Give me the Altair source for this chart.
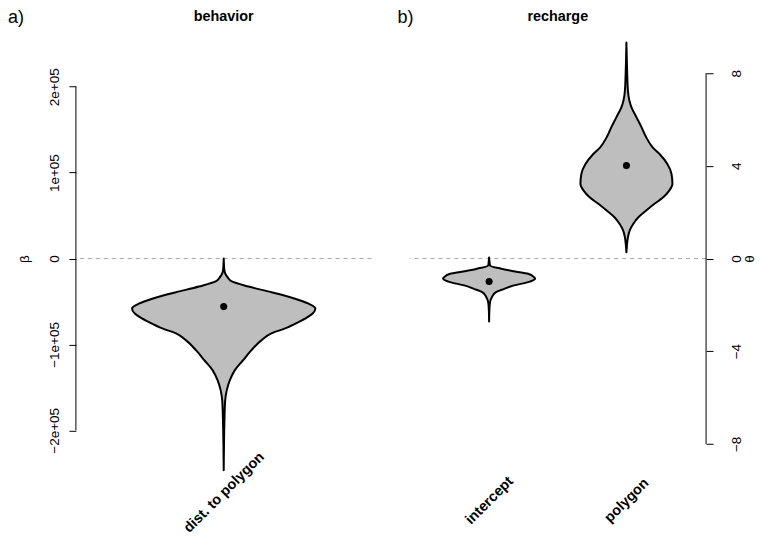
import altair as alt
import pandas as pd

FONT = "Liberation Sans"
W = 0.335  # half-width of the widest part of each violin (category units)

# ---------- panel a) behavior (beta) ----------
beta_cats = ["dist. to polygon"]
beta_vals = [0, -11600, -17400, -22100, -26700, -32600, -39500, -46500, -52300,
             -58100, -64000, -68600, -74400, -81400, -87200, -95300, -107000,
             -118600, -130200, -141900, -153500, -165100, -188400, -217400, -246500]
beta_dens = [0, .005, .016, .044, .088, .27, .53, .77, .92, 1.0, .97, .91, .81,
             .67, .52, .41, .30, .21, .12, .066, .033, .016, .008, .003, 0]
beta_mean = [-56000]
beta_ticks = [-200000, -100000, 0, 100000, 200000]
beta_tick_labels = ["\u22122e+05", "\u22121e+05", "0", "1e+05", "2e+05"]

# ---------- panel b) recharge (theta) ----------
theta_cats = ["intercept", "polygon"]
intercept_vals = [0.04, -0.17, -0.30, -0.44, -0.55, -0.66, -0.81, -0.875, -1.02,
                  -1.16, -1.31, -1.45, -1.67, -1.88, -2.24, -2.72]
intercept_dens = [0, .01, .02, .26, .54, .85, .98, 1.0, .85, .54, .33, .15, .06,
                  .02, .005, 0]
polygon_vals = [9.32, 8.10, 7.24, 6.81, 6.52, 6.09, 5.66, 5.23, 4.80, 4.51, 4.08,
                3.65, 3.22, 2.93, 2.64, 2.36, 2.07, 1.78, 1.50, 1.21, 0.92, 0.56, 0.27]
polygon_dens = [0, .015, .033, .065, .11, .22, .33, .43, .57, .72, .89, .98, 1.0,
                .93, .80, .61, .43, .26, .15, .072, .033, .011, 0]
theta_means = [-0.99, 4.01]
theta_ticks = [-8, -4, 0, 4, 8]
theta_tick_labels = ["\u22128", "\u22124", "0", "4", "8"]

PH = 445
TICK_FS = 13.5


def label_expr(values, labels):
    expr = "''"
    for v, l in zip(values, labels):
        expr = f"datum.value == {v} ? '{l}' : ({expr})"
    return expr


def violin_frame(cats, vals_list, dens_list):
    rows = []
    for i, (c, vs, ds) in enumerate(zip(cats, vals_list, dens_list)):
        pos = i + 1
        for v, d in zip(vs, ds):
            rows.append({"cat": c, "v": v, "lo": pos - W * d, "hi": pos + W * d})
    return pd.DataFrame(rows)


def panel(cats, vals_list, dens_list, means, ticks, tick_labels, ydom, xdom,
          y_orient, ytitle, title, tag, tag_dx, pw, title_x, cat_pad):
    left = y_orient == "left"
    xs = alt.Scale(domain=xdom, nice=False, zero=False)
    ys = alt.Scale(domain=ydom, nice=False, zero=False)
    positions = list(range(1, len(cats) + 1))
    yaxis = alt.Axis(
        orient=y_orient, values=ticks, labelExpr=label_expr(ticks, tick_labels),
        domain=False, grid=False, ticks=True, tickSize=7, tickColor="black",
        tickWidth=1, labelAngle=-90, labelAlign="center", labelBaseline="middle",
        labelPadding=14 if left else 23, labelFontSize=TICK_FS, labelFont=FONT,
        labelColor="black", labelOverlap=False, labelFlush=False,
        title=ytitle, titleFont=FONT, titleFontSize=TICK_FS, titleFontWeight="normal",
        titleAngle=-90, titleAlign="center", titleBaseline="middle",
        titleX=title_x, titleY=PH / 2, titleColor="black")
    xaxis = alt.Axis(
        values=positions, labelExpr=label_expr(positions, cats), domain=False,
        ticks=False, tickSize=0, grid=False, labelAngle=-45, labelAlign="center",
        labelBaseline="middle", labelPadding=cat_pad, labelFontSize=14.4,
        labelFontWeight="bold", labelFont=FONT, labelColor="black", title=None,
        labelOverlap=False, labelFlush=False, labelBound=False)

    vdf = violin_frame(cats, vals_list, dens_list)

    zero = alt.Chart(pd.DataFrame({"v": [0]})).mark_rule(
        color="#a8a8a8", strokeDash=[4, 4], strokeWidth=1
    ).encode(y=alt.Y("v:Q", scale=ys, axis=yaxis))

    axis_line = alt.Chart(pd.DataFrame({"v": [ticks[0]], "v2": [ticks[-1]]})).mark_rule(
        color="black", strokeWidth=1
    ).encode(x=alt.value(0 if left else pw), y=alt.Y("v:Q", scale=ys, axis=yaxis),
             y2="v2:Q")

    area = alt.Chart(vdf).mark_area(
        orient="horizontal", interpolate="monotone", fill="#bebebe",
        stroke="black", strokeWidth=2, strokeJoin="round", opacity=1
    ).encode(y=alt.Y("v:Q", scale=ys, axis=yaxis),
             x=alt.X("lo:Q", scale=xs, axis=xaxis), x2="hi:Q", detail="cat:N")

    pts = alt.Chart(pd.DataFrame({"pos": positions, "m": means})).mark_point(
        filled=True, shape="circle", size=50, color="black", opacity=1
    ).encode(x=alt.X("pos:Q", scale=xs, axis=xaxis),
             y=alt.Y("m:Q", scale=ys, axis=yaxis))

    tag_txt = alt.Chart(pd.DataFrame({"t": [tag]})).mark_text(
        font=FONT, fontSize=18, align="left", baseline="alphabetic", color="black"
    ).encode(text="t:N", x=alt.value(tag_dx), y=alt.value(-13.1))

    ttl = alt.Chart(pd.DataFrame({"t": [title]})).mark_text(
        font=FONT, fontSize=14.4, fontWeight="bold", align="center",
        baseline="alphabetic", color="black"
    ).encode(text="t:N", x=alt.value(pw / 2), y=alt.value(-15.7))

    return alt.layer(zero, axis_line, area, pts, tag_txt, ttl).properties(
        width=pw, height=PH)


left_panel = panel(beta_cats, [beta_vals], [beta_dens], beta_mean, beta_ticks,
                   beta_tick_labels, [-258700, 258700], [0.46, 1.54], "left",
                   "\u03b2", "behavior", "a)", -68, 296, -51, 11.5)
right_panel = panel(theta_cats, [intercept_vals, polygon_vals],
                    [intercept_dens, polygon_dens], theta_means, theta_ticks,
                    theta_tick_labels, [-9.59, 9.59], [0.42, 2.58], "right",
                    "\u03b8", "recharge", "b)", -12, 297, 43, 19.5)

chart = alt.hconcat(left_panel, right_panel, spacing=25).properties(
    padding={"left": 0, "top": 0, "right": 0, "bottom": 0}
).configure_view(stroke=None)

chart.save("out.html", embed_options={"renderer": "svg", "actions": False})
